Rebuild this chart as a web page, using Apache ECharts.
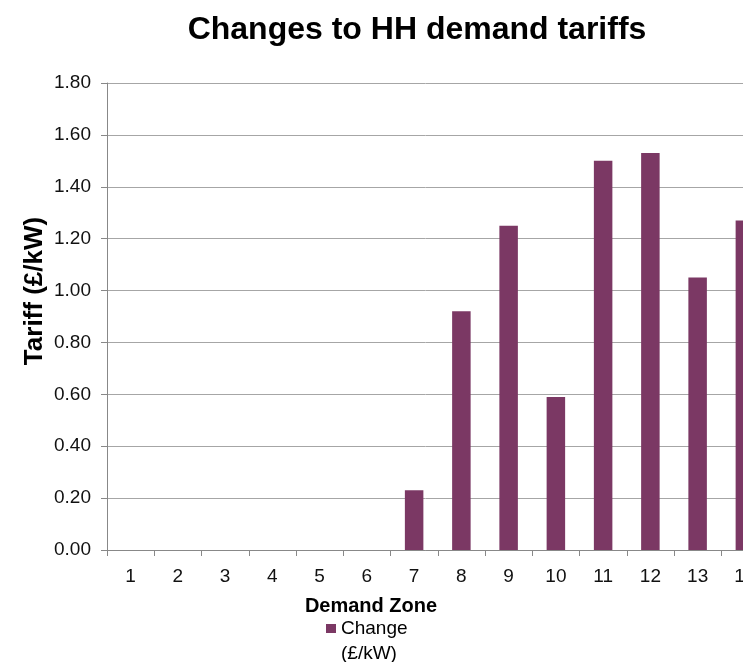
<!DOCTYPE html>
<html>
<head>
<meta charset="utf-8">
<script src="https://cdn.jsdelivr.net/npm/echarts@6/dist/echarts.min.js"></script>
<style>
  html, body { margin: 0; padding: 0; background: #fff; }
  #chart { width: 743px; height: 662px; }
</style>
</head>
<body>
<div id="chart"></div>
<script>
const categories = ['1','2','3','4','5','6','7','8','9','10','11','12','13','14'];
const changeValues = [0, 0, 0, 0, 0, 0, 0.23, 0.92, 1.25, 0.59, 1.50, 1.53, 1.05, 1.27];
const seriesName = 'Change\n(£/kW)';
const titleText = 'Changes to HH demand tariffs';
const yAxisTitle = 'Tariff (£/kW)';
const xAxisTitle = 'Demand Zone';

const FONT = '"Liberation Sans", Arial, sans-serif';
const chart = echarts.init(document.getElementById('chart'), null, { renderer: 'canvas' });

chart.setOption({
  backgroundColor: '#ffffff',
  animation: false,
  textStyle: { fontFamily: FONT },
  title: {
    text: titleText,
    left: 412,
    top: 9,
    textAlign: 'center',
    textStyle: { fontFamily: FONT, fontSize: 32, fontWeight: 'bold', color: '#000' }
  },
  legend: {
    data: [seriesName],
    left: 326,
    top: 616,
    padding: 0,
    itemWidth: 10,
    itemHeight: 34,
    icon: 'path://M0,0L10,0L10,9L0,9Z M0,34L10,34Z',
    textStyle: { fontFamily: FONT, fontSize: 19, color: '#000', lineHeight: 25 }
  },
  grid: {
    left: 107,
    top: 83,
    width: 661.5,
    height: 467,
    containLabel: false,
    outerBoundsMode: 'none'
  },
  xAxis: {
    type: 'category',
    data: categories,
    boundaryGap: true,
    axisLine: { show: true, lineStyle: { color: '#888', width: 1 } },
    axisTick: { show: true, length: 6, lineStyle: { color: '#888' } },
    axisLabel: { margin: 17, fontFamily: FONT, fontSize: 19, color: '#111' },
    splitLine: { show: false }
  },
  yAxis: {
    type: 'value',
    min: 0,
    max: 1.8,
    interval: 0.2,
    axisLine: { show: true, lineStyle: { color: '#888', width: 1 } },
    axisTick: { show: true, inside: false, length: 6, lineStyle: { color: '#888' } },
    axisLabel: {
      margin: 16,
      fontFamily: FONT, fontSize: 19, color: '#111',
      formatter: v => v.toFixed(2)
    },
    splitLine: { show: true, lineStyle: { color: '#a6a6a6', width: 1 } }
  },
  graphic: [
    {
      type: 'text',
      x: 35, y: 291,
      rotation: Math.PI / 2,
      style: {
        text: yAxisTitle,
        fontFamily: FONT, fontSize: 26, fontWeight: 'bold', fill: '#000',
        align: 'center', verticalAlign: 'middle'
      }
    },
    {
      type: 'text',
      x: 371, y: 606,
      style: {
        text: xAxisTitle,
        fontFamily: FONT, fontSize: 20, fontWeight: 'bold', fill: '#000',
        align: 'center', verticalAlign: 'middle'
      }
    }
  ],
  series: [{
    name: seriesName,
    type: 'bar',
    data: changeValues,
    barWidth: 18.5,
    itemStyle: { color: '#7b3864' }
  }]
});
</script>
</body>
</html>
